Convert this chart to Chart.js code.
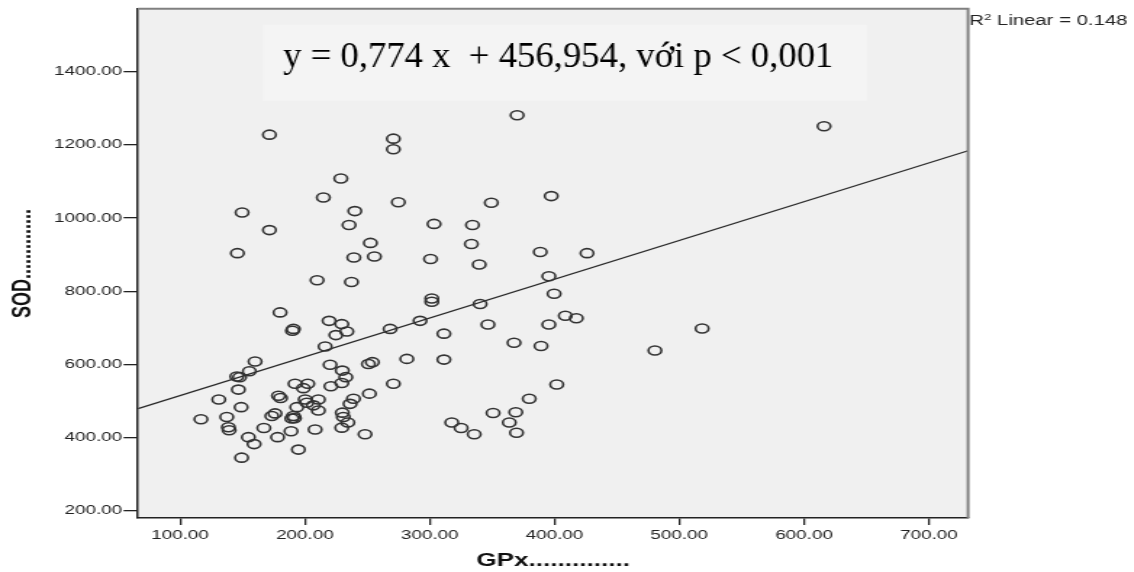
<!DOCTYPE html>
<html>
<head>
<meta charset="utf-8">
<script src="https://cdn.jsdelivr.net/npm/chart.js@4.4.1/dist/chart.umd.min.js"></script>
<style>
  html, body { margin: 0; padding: 0; background: #fff; overflow: hidden; }
  /* the source picture is stretched sideways, so the whole chart is drawn narrow and scaled */
  #wrap { width: 782px; height: 572px; transform: scaleX(1.45); transform-origin: 0 0; }
</style>
</head>
<body>
<div id="wrap"><canvas id="chart" width="782" height="572"></canvas></div>
<script>
const STRETCH = 1.45;

// ─── Data ────────────────────────────────────────────────────────────────────
const gpx = [
  116.7, 131.0, 137.4, 138.7, 139.3, 145.4, 147.7, 146.7, 148.9, 149.3,
  154.7, 159.3, 155.5, 160.1, 167.1, 173.5, 176.1, 178.1, 178.8, 180.5,
  180.1, 190.8, 190.0, 219.4, 229.6, 233.6, 224.8, 216.2, 268.3, 292.3,
  220.2, 250.9, 254.1, 281.7, 230.0, 232.8, 229.6, 220.8, 192.1, 202.3,
  198.8, 270.9, 251.7, 238.9, 236.2, 200.2, 201.5, 210.8, 206.8, 210.8,
  193.5, 190.8, 189.5, 191.6, 230.0, 230.8, 234.4, 229.6, 188.9, 208.2,
  248.2, 194.8, 171.6, 270.9, 270.9, 228.8, 214.8, 274.9, 149.7, 240.0,
  171.6, 235.4, 303.5, 145.9, 252.5, 239.2, 255.7, 300.7, 209.8, 237.3,
  301.7, 301.7, 370.1, 616.0, 397.4, 349.4, 334.3, 333.4, 388.6, 426.1,
  339.7, 395.5, 399.7, 340.4, 408.7, 417.5, 346.7, 395.5, 518.3, 311.4,
  367.6, 389.2, 480.5, 311.4, 401.8, 379.8, 350.8, 369.0, 317.7, 325.2,
  335.7, 363.8, 369.6
];
const sod = [
  450, 504, 456, 428, 420, 567, 565, 531, 483, 345,
  401, 382, 581, 608, 426, 459, 466, 401, 514, 508,
  742, 697, 692, 719, 710, 690, 680, 649, 697, 719,
  599, 601, 606, 615, 583, 565, 549, 540, 547, 547,
  535, 547, 520, 506, 492, 504, 495, 504, 488, 474,
  483, 459, 452, 453, 468, 456, 441, 427, 417, 422,
  409, 367, 1228, 1217, 1188, 1108, 1056, 1043, 1015, 1019,
  967, 981, 984, 904, 932, 892, 895, 888, 830, 825,
  780, 771, 1281, 1251, 1060, 1042, 981, 929, 907, 904,
  873, 841, 793, 765, 733, 726, 709, 709, 698, 684,
  659, 650, 638, 613, 545, 506, 467, 469, 441, 426,
  409, 441, 413
];

// fit line as drawn, end points at the plot edges
const fitX = [66.3, 731.4];
const fitY = [479, 1184];

const xTicks = [100, 200, 300, 400, 500, 600, 700];
const yTicks = [200, 400, 600, 800, 1000, 1200, 1400];
const xRange = [66.3, 731.4];
const yRange = [180, 1572];

const equation = "y = 0,774 x  + 456,954, với p < 0,001";
const r2Label  = " Linear = 0.148";

// ─── Plot frame, equation box and R² note ────────────────────────────────────
const framePlugin = {
  id: "frame",
  beforeDraw(chart) {
    const { ctx, chartArea: a } = chart;
    ctx.save();
    ctx.fillStyle = "#f0f0f0";
    ctx.fillRect(a.left, a.top, a.right - a.left, a.bottom - a.top);
    ctx.fillStyle = "#f4f4f4";
    ctx.fillRect(a.left + 86, a.top + 16, 417, 76);
    ctx.restore();
  },
  afterDraw(chart) {
    const { ctx, chartArea: a } = chart;
    ctx.save();
    ctx.strokeStyle = "#808080";
    ctx.lineWidth = 2;
    ctx.beginPath();
    ctx.moveTo(a.left, a.top);
    ctx.lineTo(a.right, a.top);
    ctx.lineTo(a.right, a.bottom);
    ctx.stroke();

    // the equation sits on top of the picture unstretched
    ctx.save();
    ctx.scale(1 / STRETCH, 1);
    ctx.fillStyle = "#000";
    ctx.textBaseline = "alphabetic";
    ctx.font = "36.7px 'Liberation Serif'";
    ctx.fillText(equation, (a.left + 100) * STRETCH, 67);
    ctx.restore();

    let x = a.right + 1;
    ctx.fillStyle = "#222";
    ctx.font = "14px 'Liberation Sans'";
    ctx.fillText("R", x, 25);
    x += ctx.measureText("R").width;
    ctx.font = "9px 'Liberation Sans'";
    ctx.fillText("2", x, 20);
    x += ctx.measureText("2").width;
    ctx.font = "14px 'Liberation Sans'";
    ctx.fillText(r2Label, x, 25);
    ctx.restore();
  }
};

const tickFont = { family: "'Liberation Sans', Arial, sans-serif", size: 13 };
const titleFont = { family: "'Liberation Sans', Arial, sans-serif", size: 18, weight: "bold" };

new Chart(document.getElementById("chart"), {
  type: "scatter",
  data: {
    datasets: [
      {
        data: gpx.map((x, i) => ({ x: x, y: sod[i] })),
        pointStyle: "circle",
        pointRadius: 4.5,
        pointBorderWidth: 1.6,
        pointBorderColor: "#333",
        pointBackgroundColor: "rgba(0,0,0,0)"
      },
      {
        type: "line",
        data: fitX.map((x, i) => ({ x: x, y: fitY[i] })),
        borderColor: "#2a2a2a",
        borderWidth: 1.3,
        pointRadius: 0,
        fill: false
      }
    ]
  },
  options: {
    responsive: false,
    animation: false,
    layout: { padding: { top: 7, right: 114.4, left: 0, bottom: 0 } },
    plugins: { legend: { display: false }, tooltip: { enabled: false } },
    scales: {
      x: {
        type: "linear",
        min: xRange[0], max: xRange[1],
        afterBuildTicks: s => { s.ticks = xTicks.map(v => ({ value: v })); },
        afterFit: s => { s.height = 54; },
        ticks: { callback: v => v.toFixed(2), font: tickFont, color: "#222", padding: 3, maxRotation: 0, autoSkip: false },
        grid: { drawOnChartArea: false, drawTicks: true, tickLength: 7, color: "#222", lineWidth: 1.3 },
        border: { display: true, color: "#222", width: 1.5 },
        title: { display: true, text: "GPx..............", font: titleFont, color: "#111", padding: { top: 0, bottom: 0 } }
      },
      y: {
        type: "linear",
        min: yRange[0], max: yRange[1],
        afterBuildTicks: s => { s.ticks = yTicks.map(v => ({ value: v })); },
        afterFit: s => { s.width = 95.2; },
        ticks: { callback: v => v.toFixed(2), font: tickFont, color: "#222", padding: 1, autoSkip: false },
        grid: { drawOnChartArea: false, drawTicks: true, tickLength: 10, color: "#222", lineWidth: 1.3 },
        border: { display: true, color: "#222", width: 1.5 },
        title: { display: true, text: "SOD..............", font: titleFont, color: "#111", padding: { top: 5, bottom: 0 } }
      }
    }
  },
  plugins: [framePlugin]
});
</script>
</body>
</html>
